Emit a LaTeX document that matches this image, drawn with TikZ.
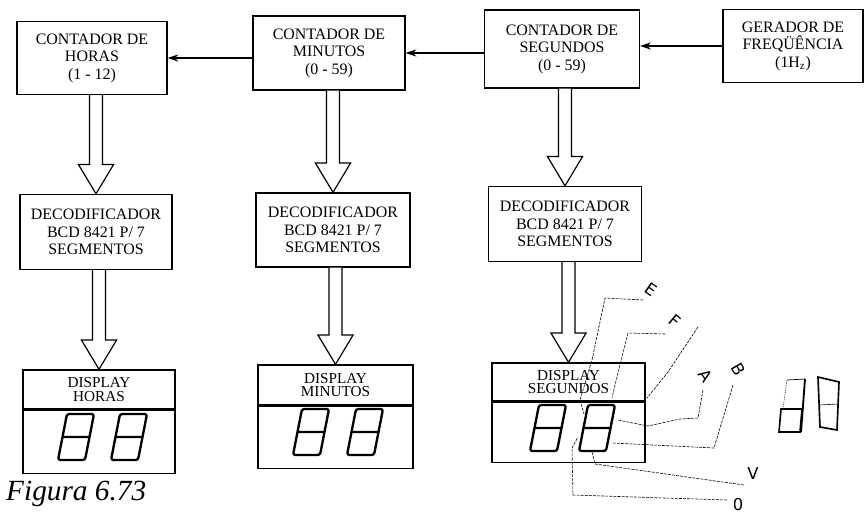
\documentclass[tikz,border=0pt]{standalone}
\usepackage{fontspec}
\setmainfont{Liberation Serif}
\newfontfamily\handfont{DejaVu Sans}
\usepackage{tikz}
\usetikzlibrary{calc,arrows.meta}

\tikzset{
  blk/.style={draw,line width=1.2pt,align=center,inner sep=2pt,
    font=\fontsize{13.6}{15}\selectfont},
  disp/.style={draw,line width=1.2pt,align=center,inner sep=1pt,
    font=\fontsize{13}{11.5}\selectfont},
  fat/.style={line width=1pt,fill=white,line join=miter},
  seg/.style={line width=2pt,rounded corners=2pt,line join=round},
  hand/.style={line width=0.5pt,dash pattern=on 2.5pt off 1pt},
  handtxt/.style={font=\handfont\fontsize{14}{14}\selectfont,inner sep=0pt},
}
% seta larga vazada: de #1 (base) ate #2 (ponta)
\newcommand{\fatarrow}[2]{%
  \draw[fat] let \p1=(#1), \p2=(#2) in
    (\x2-5.5pt,\y1) -- (\x2-5.5pt,\y2+25pt) -- (\x2-15pt,\y2+25pt)
    -- (\x2,\y2) -- (\x2+15pt,\y2+25pt) -- (\x2+5.5pt,\y2+25pt)
    -- (\x2+5.5pt,\y1);}
% digito de 7 segmentos inclinado
\newcommand{\segdigit}[1]{%
  \draw[seg,shift={(#1)}] (-18,23) -- (9,23) -- (18,-23) -- (-9,-23) -- cycle
    (-13.5,0) -- (13.5,0);}

\begin{document}
\begin{tikzpicture}[x=0.03cm,y=-0.03cm,>={Stealth[length=9pt,width=6pt]}]
  \useasboundingbox (0,0) rectangle (865,518);

  % contadores
  \node[blk,minimum width=4.5cm,minimum height=2.19cm] (ch) at (92,58)
    {CONTADOR DE\\HORAS\\(1 - 12)};
  \node[blk,minimum width=4.56cm,minimum height=2.22cm] (cm) at (329,53)
    {CONTADOR DE\\MINUTOS\\(0 - 59)};
  \node[blk,minimum width=4.65cm,minimum height=2.34cm] (cs) at (562,49)
    {CONTADOR DE\\SEGUNDOS\\(0 - 59)};
  \node[blk,minimum width=4.2cm,minimum height=2.19cm] (gf) at (793,46)
    {GERADOR DE\\FREQÜÊNCIA\\(1H\textsubscript{z})};

  \draw[->,line width=1pt] (gf.west) -- (gf.west -| cs.east);
  \draw[->,line width=1pt] (cs.west |- cm.east) -- (cm.east);
  \draw[->,line width=1pt] (cm.west |- ch.east) -- (ch.east);

  % decodificadores
  \node[blk,minimum width=4.56cm,minimum height=2.25cm] (dh) at (96,232)
    {DECODIFICADOR\\BCD 8421 P/ 7\\SEGMENTOS};
  \node[blk,minimum width=4.62cm,minimum height=2.22cm] (dm) at (333,230)
    {DECODIFICADOR\\BCD 8421 P/ 7\\SEGMENTOS};
  \node[blk,minimum width=4.59cm,minimum height=2.25cm] (ds) at (565,224)
    {DECODIFICADOR\\BCD 8421 P/ 7\\SEGMENTOS};

  % displays
  \node[disp,minimum width=4.56cm,minimum height=1.17cm] (xh) at (99,389.5)
    {DISPLAY\\HORAS};
  \node[disp,minimum width=4.56cm,minimum height=1.89cm,anchor=north] (xhd)
    at (xh.south) {};
  \node[disp,minimum width=4.65cm,minimum height=1.2cm] (xm) at (335.5,385)
    {DISPLAY\\MINUTOS};
  \node[disp,minimum width=4.65cm,minimum height=1.86cm,anchor=north] (xmd)
    at (xm.south) {};
  \node[disp,minimum width=4.59cm,minimum height=1.14cm] (xs) at (568.5,382)
    {DISPLAY\\SEGUNDOS};
  \node[disp,minimum width=4.59cm,minimum height=1.8cm,anchor=north] (xsd)
    at (xs.south) {};

  \fatarrow{ch.south}{dh.north}
  \fatarrow{cm.south}{dm.north}
  \fatarrow{cs.south}{ds.north}
  \fatarrow{dh.south}{xh.north}
  \fatarrow{dm.south}{xm.north}
  \fatarrow{ds.south}{xs.north}

  \segdigit{76,437}
  \segdigit{129,437}
  \segdigit{311,432}
  \segdigit{365,432}
  \segdigit{548,428}
  \segdigit{597,428}

  \node[font=\itshape\fontsize{25}{25}\selectfont,anchor=west,inner sep=0pt]
    (fig) at (6,494) {Figura 6.73};

  % anotacoes a mao
  \node[handtxt,rotate=-35] (lE) at (651,290) {E};
  \node[handtxt,rotate=-40] (lF) at (675,321) {F};
  \node[handtxt,rotate=-55] (lA) at (706,376) {A};
  \node[handtxt,rotate=-60] (lB) at (738,369) {B};
  \node[handtxt] (lV) at (753,474) {V};
  \node[handtxt] (l0) at (738,505) {0};
  \draw[hand] (643,300) -- (605,298) -- (592,360) -- (580,400) -- (584,414);
  \draw[hand] (665,334) -- (628,333) -- (615,385) -- (612,398);
  \draw[hand] (698,327) -- (668,372) -- (647,398);
  \draw[hand] (703,390) -- (698,418) -- (680,419) -- (648,426) -- (618,420);
  \draw[hand] (733,385) -- (714,448) -- (612,443);
  \draw[hand] (744,485) -- (595,464) -- (592,452);
  \draw[hand] (727,500) -- (573,495) -- (572,448) -- (578,437);

  \draw[line width=1.4pt] (781,409) -- (802,409) -- (800,432) -- (779,432) -- cycle;
  \draw[line width=1.6pt] (805,379) -- (801,432);
  \draw[line width=0.6pt] (787,380) -- (805,379);
  \draw[line width=0.5pt,densely dotted] (787,380) -- (783,408);
  \draw[line width=1.4pt] (818,377) -- (839,382) -- (837,430) -- (820,427) -- cycle;
  \draw[line width=0.5pt] (820,405) -- (837,404);
\end{tikzpicture}
\end{document}
